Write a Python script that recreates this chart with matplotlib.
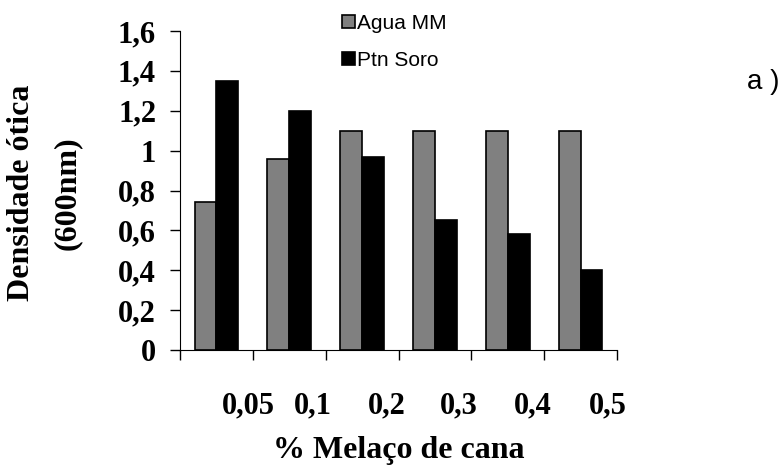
import numpy as np
import matplotlib.pyplot as plt
from matplotlib.ticker import FuncFormatter

categorias = ["0,05", "0,1", "0,2", "0,3", "0,4", "0,5"]
agua_mm = [0.74, 0.96, 1.10, 1.10, 1.10, 1.10]
ptn_soro = [1.35, 1.20, 0.97, 0.65, 0.58, 0.40]
y_ticks = [0, 0.2, 0.4, 0.6, 0.8, 1.0, 1.2, 1.4, 1.6]

serif = ["Liberation Serif", "DejaVu Serif"]
sans = ["Liberation Sans", "DejaVu Sans"]

fig = plt.figure(figsize=(7.84, 4.70), dpi=100)
ax = fig.add_axes([180/784, 120/470, 437/784, 319/470])

x = np.arange(len(categorias)) + 0.5
w = 0.3
ax.bar(x - w/2, agua_mm, w, color="#808080", edgecolor="black", linewidth=1.2, label="Agua MM")
ax.bar(x + w/2, ptn_soro, w, color="black", edgecolor="black", linewidth=1.2, label="Ptn Soro")

ax.set_xlim(0, len(categorias))
ax.set_ylim(0, 1.6)
ax.set_yticks(y_ticks)
ax.yaxis.set_major_formatter(FuncFormatter(lambda v, p: ("%g" % round(v, 1)).replace(".", ",")))

# category boundaries as tick marks, labels placed slightly off-centre like the original
ax.set_xticks(np.arange(len(categorias) + 1))
ax.set_xticklabels([])
lab_pos = [0.94, 1.83, 2.84, 3.83, 4.84, 5.87]
ax.set_xticks(lab_pos, minor=True)
ax.set_xticklabels(categorias, minor=True)
ax.tick_params(axis="x", which="minor", length=0, pad=30)
ax.tick_params(axis="both", which="major", direction="out", length=7.2, width=1)
ax.tick_params(axis="y", pad=10)

for t in ax.get_yticklabels() + ax.get_xticklabels(minor=True):
    t.set_family(serif)
    t.set_fontweight("bold")
    t.set_fontsize(22)

for s in ["top", "right"]:
    ax.spines[s].set_visible(False)

ax.set_xlabel("% Melaço de cana", family=serif, fontweight="bold", fontsize=23, labelpad=11)
fig.text(22/784, 1 - 193/470, "Densidade ótica", rotation=90, ha="center", va="center",
         family=serif, fontweight="bold", fontsize=23)
fig.text(67/784, 1 - 193/470, "(600nm)", rotation=90, ha="center", va="center",
         family=serif, fontweight="bold", fontsize=23)

fig.legend(loc="upper left", bbox_to_anchor=(342/784, 1 - 14/470), frameon=False,
           prop={"family": sans, "size": 15}, handlelength=0.62, handleheight=0.62,
           handletextpad=0.12, labelspacing=0.85, borderpad=0, borderaxespad=0)

fig.text(747/784, 1 - 82/470, "a )", ha="left", va="center", family=sans, fontsize=20)

fig.savefig("out.png", dpi=100)
